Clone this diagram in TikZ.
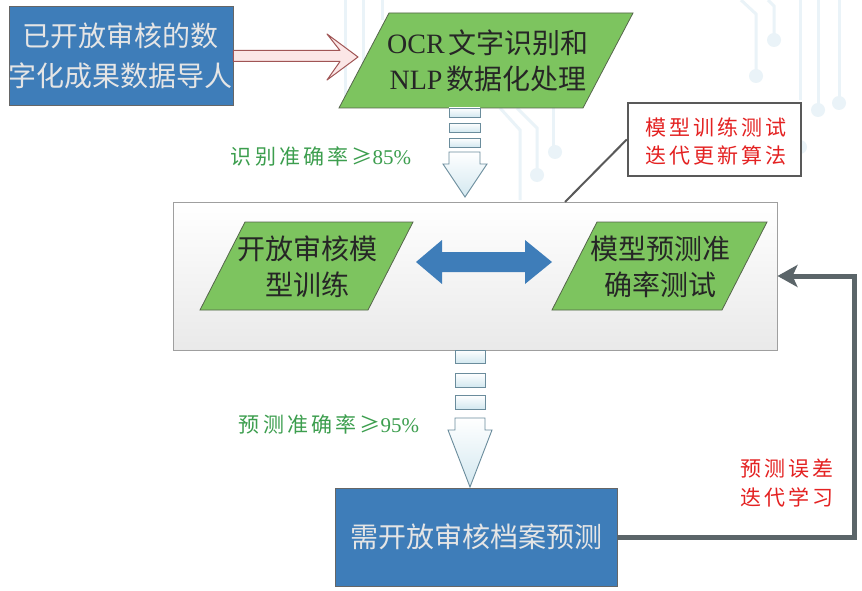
\documentclass[tikz,border=0pt]{standalone}
\usepackage{fontspec}
\setmainfont{Liberation Serif}
\newfontfamily\cjk{Noto Sans CJK SC}
\newfontfamily\cjklab[LetterSpace=15]{Noto Sans CJK SC}
\usetikzlibrary{arrows.meta,calc}
\definecolor{boxblue}{HTML}{3E7DB9}
\definecolor{boxgreen}{HTML}{7DC45F}
\definecolor{greenedge}{HTML}{55654B}
\definecolor{labgreen}{HTML}{3C9E4E}
\definecolor{labred}{HTML}{E42222}
\definecolor{fbgray}{HTML}{5B6569}
\definecolor{circuit}{HTML}{EAF3F8}
\definecolor{stripeedge}{HTML}{6A8C9C}
\definecolor{stripefill}{HTML}{D3E8F0}
\definecolor{pinkedge}{HTML}{A05555}
\definecolor{pinkfill}{HTML}{FBE6E6}
\tikzset{
  bluebox/.style={rectangle, fill=boxblue, draw=gray!80!black, line width=0.8pt, inner sep=0pt,
     text=white!90!black, align=center, font=\cjk\fontsize{28}{40}\selectfont},
  parashape/.style={fill=boxgreen, draw=greenedge, line width=0.8pt},
  paratext/.style={inner sep=0pt, align=center, text=black!85, font=\cjk\fontsize{28}{36}\selectfont},
  stripe/.style={draw=stripeedge, line width=0.9pt, top color=white, bottom color=stripefill},
  greenlab/.style={inner sep=0pt, text=labgreen, font=\cjklab\fontsize{21}{26}\selectfont},
  redlab/.style={inner sep=0pt, align=center, text=labred, font=\cjklab\fontsize{21}{28}\selectfont},
  circ/.style={draw=circuit, line width=3pt},
  circdot/.style={fill=circuit}
}
\begin{document}
\begin{tikzpicture}[x=1pt,y=-1pt]
\useasboundingbox (0,0) rectangle (862,591);
\fill[white] (0,0) rectangle (862,591);
% faint circuit background
\draw[circ] (741,0) -- (756,14) -- (756,72);
\fill[circdot] (756,76) circle (7);
\draw[circ] (768,0) -- (774,6) -- (774,36);
\fill[circdot] (774,40) circle (7);
\draw[circ] (800,0) -- (800,100);
\fill[circdot] (800,147) circle (7);
\draw[circ] (818,0) -- (818,106);
\fill[circdot] (818,110) circle (7);
\draw[circ] (839,0) -- (839,98);
\fill[circdot] (839,103) circle (7);
\draw[circ] (345,0) -- (345,108);
\draw[circ] (363,0) -- (363,108);
\draw[circ] (382,0) -- (382,20);
\draw[circ] (500,108) -- (520,130) -- (520,200);
\draw[circ] (517,108) -- (537,128) -- (537,170);
\fill[circdot] (537,175) circle (7);
\draw[circ] (553,108) -- (553,148);
\fill[circdot] (555,152) circle (7);

% source box
\node[bluebox, minimum width=218, minimum height=99] (src) at (121,55.5) {已开放审核的数\\字化成果数据导人};

% top parallelogram
\draw[parashape] (339,108) -- (389,13) -- (633,13) -- (583,108) -- cycle;
\node[paratext] (ocr) at (488,61) {{\rmfamily OCR}\hspace{4pt}文字识别和\\{\rmfamily NLP}\hspace{4pt}数据化处理};

% pink hollow arrow
\draw[draw=pinkedge, fill=pinkfill, line width=1pt, line join=round]
  ($(src.east)+(0,-5)$) -- (340,50.5) -- (327,34) -- (358,57) -- (327,80) -- (340,61.5) -- ($(src.east)+(0,6)$) -- cycle;

% striped arrow 1
\draw[stripe] (449,108) rectangle (480,117);
\draw[stripe] (449,123) rectangle (480,132);
\draw[stripe] (449,138) rectangle (480,147);
\draw[stripe] (449,152) -- (480,152) -- (480,164) -- (487,164) -- (465,197) -- (443,164) -- (449,164) -- cycle;
\node[greenlab] (acc1) at (321,156) {识别准确率≥{\rmfamily 85\%}};

% main gray box
\node[rectangle, minimum width=604, minimum height=148, draw=gray!75, line width=1pt,
      top color=white, bottom color=gray!17] (mid) at (475,276) {};

% inner parallelograms
\draw[parashape] (200,310) -- (245,222) -- (413,222) -- (368,310) -- cycle;
\node[paratext] (train) at (307,267) {开放审核模\\型训练};
\draw[parashape] (552,310) -- (597,222) -- (767,222) -- (722,310) -- cycle;
\node[paratext] (test) at (660,267) {模型预测准\\确率测试};

% double arrow
\fill[boxblue] (416,262) -- (442,240) -- (442,252) -- (525,252) -- (525,240) -- (552,262)
  -- (525,284) -- (525,272) -- (442,272) -- (442,284) -- cycle;

% callout
\coordinate (cbend) at (565,202);
\node[rectangle, minimum width=173, minimum height=73, draw=black!65, line width=2.5pt, fill=white] (cb) at (714.5,139.5) {};
\draw[black!65, line width=2pt] (cb.west) -- (cbend);
\node[redlab] (cbt) at (716,141) {模型训练测试\\迭代更新算法};

% striped arrow 2
\draw[stripe] (455,350) rectangle (485,363);
\draw[stripe] (455,373) rectangle (485,387);
\draw[stripe] (455,395) rectangle (485,409);
\draw[stripe] (455,418) -- (485,418) -- (485,430) -- (492,430) -- (470,487) -- (448,430) -- (455,430) -- cycle;
\node[greenlab] (acc2) at (329,424) {预测准确率≥{\rmfamily 95\%}};

% destination box
\node[bluebox, minimum width=282, minimum height=98] (dst) at (476,537) {需开放审核档案预测};

% feedback loop
\draw[fbgray, line width=5pt, -{Stealth[length=20pt,width=22pt,inset=5pt]}]
  (dst.east) -- ++(237,0) |- (mid.east);
\node[redlab, font=\cjklab\fontsize{21}{29}\selectfont] (fbl) at (787,483) {预测误差\\迭代学习};
\end{tikzpicture}
\end{document}
